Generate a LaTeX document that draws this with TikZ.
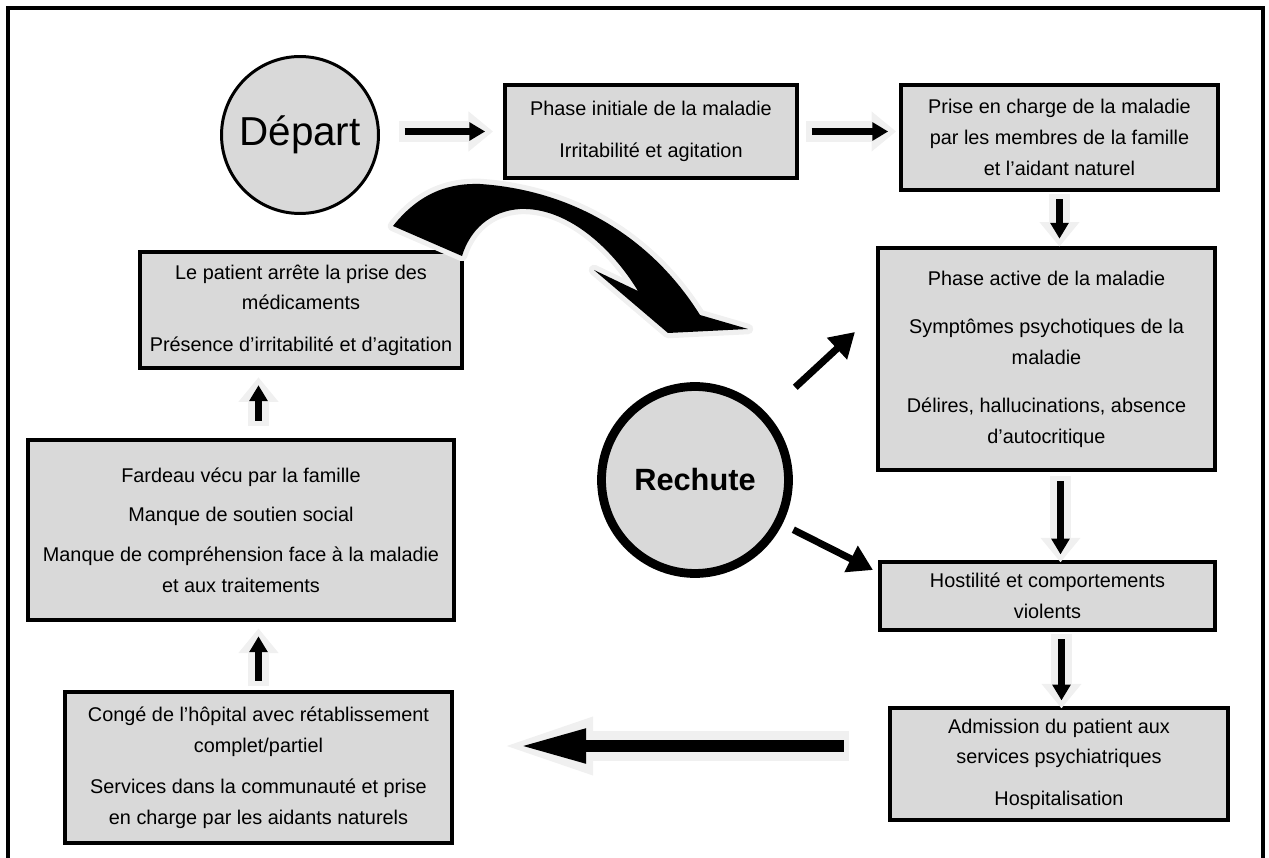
\documentclass[tikz,border=0pt]{standalone}
\usepackage{fontspec}
\setmainfont{Liberation Sans}
\usetikzlibrary{arrows.meta}
\definecolor{boxgray}{HTML}{D9D9D9}

\begin{document}
\begin{tikzpicture}[x=0.02cm,y=-0.02cm,
	txt/.style={font=\fontsize{11.3}{17.5}\selectfont},
	box/.style={txt, draw, line width=2.6pt, fill=boxgray, align=center, inner sep=0pt},
	ring/.style={circle, draw, fill=boxgray, inner sep=0pt},
	blk/.style 2 args={draw=black, line width=4.3pt, -{Triangle[length=9pt,width=10pt]},
		shorten <=#1, shorten >=#2,
		preaction={draw=black!6, line width=12pt, -{Triangle[length=14pt,width=22pt]},
			shorten <=#1-3pt, shorten >=#2-4.5pt}},
	bigblk/.style 2 args={draw=black, line width=6.8pt, -{Triangle[length=38pt,width=18pt]},
		shorten <=#1, shorten >=#2,
		preaction={draw=black!6, line width=17pt, -{Triangle[length=57pt,width=28pt]},
			shorten <=#1-3pt, shorten >=#2-15pt}},
	thin/.style={line width=4pt, -{Triangle[length=14pt,width=16pt]}}]
	\useasboundingbox (0,0) rectangle (1269,858);
	%
	%  FRAME
	%
	\draw[line width=2.3pt] (8,880) -- (8,8) -- (1263,8) -- (1263,880);
	%
	%  CIRCLES
	%
	\node[ring, line width=1.7pt, minimum size=3.14cm, font=\fontsize{23}{27}\selectfont] (dep) at (300,135) {Départ};
	\node[ring, line width=5pt, minimum size=3.74cm, font=\fontsize{17.5}{21}\selectfont\bfseries] (rec) at (695,480) {Rechute};
	%
	%  BOXES
	%
	\node[box, minimum width=5.84cm, minimum height=1.86cm] (b1) at (651,131.5)
		{Phase initiale de la maladie\\[6pt]Irritabilité et agitation};
	\node[box, minimum width=6.34cm, minimum height=2.1cm] (b2) at (1059.5,137.5)
		{Prise en charge de la maladie\\par les membres de la famille\\et l’aidant naturel};
	\node[box, minimum width=6.74cm, minimum height=4.44cm] (b3) at (1046.5,359)
		{Phase active de la maladie\\[10pt]Symptômes psychotiques de la\\maladie\\[10pt]Délires, hallucinations, absence\\d’autocritique};
	\node[box, minimum width=6.7cm, minimum height=1.36cm] (b4) at (1047.5,596)
		{Hostilité et comportements\\violents};
	\node[box, minimum width=6.76cm, minimum height=2.24cm] (b5) at (1059,764)
		{Admission du patient aux\\services psychiatriques\\[6pt]Hospitalisation};
	\node[box, minimum width=7.74cm, minimum height=3.02cm] (b6) at (258.5,767.5)
		{Congé de l’hôpital avec rétablissement\\complet/partiel\\[6pt]Services dans la communauté et prise\\en charge par les aidants naturels};
	\node[box, minimum width=8.52cm, minimum height=3.6cm] (b7) at (241,530)
		{Fardeau vécu par la famille\\[5pt]Manque de soutien social\\[5pt]Manque de compréhension face à la maladie\\et aux traitements};
	\node[box, minimum width=6.44cm, minimum height=2.32cm] (b8) at (301,310)
		{Le patient arrête la prise des\\médicaments\\[6pt]Présence d’irritabilité et d’agitation};
	%
	%  BLOCK ARROWS
	%
	\coordinate (lft) at ([yshift=0.36cm]b5.west);
	\draw[blk={14pt}{10pt}] (b1.west -| dep.east) -- (b1.west);
	\draw[blk={7pt}{6pt}] (b1.east) -- (b1.east -| b2.west);
	\draw[blk={4pt}{4pt}] (b2.south) -- (b2.south |- b3.north);
	\draw[blk={5pt}{3pt}] ([xshift=0.28cm]b3.south) -- ([xshift=0.28cm]b3.south |- b4.north);
	\draw[blk={4pt}{3pt}] ([xshift=0.28cm]b4.south) -- ([xshift=0.28cm]b4.south |- b5.north);
	\draw[bigblk={25pt}{37pt}] (lft) -- (lft -| b6.east);
	\draw[blk={5pt}{8pt}] (b6.north) -- (b6.north |- b7.south);
	\draw[blk={9.6pt}{8.5pt}] (b7.north -| b6.north) -- (b8.south -| b6.north);
	%
	%  RELAPSE ARROWS
	%
	\coordinate (p3) at (855,332);
	\coordinate (p4) at (873,570);
	\draw[thin, shorten <=22pt] (rec) -- (p3);
	\draw[thin, shorten <=7pt] (rec) -- (p4);
	%
	%  CURVED ARROW
	%
	\fill[black, preaction={draw=black!6, line width=6pt, line join=round}]
		(393,226) .. controls (420,192) and (450,183) .. (480,184)
		.. controls (570,190) and (650,235) .. (700,315)
		-- (748,329) -- (668,333) -- (594,270) -- (638,291)
		.. controls (610,245) and (565,207) .. (520,209)
		.. controls (490,211) and (470,230) .. (462,256) -- cycle;
\end{tikzpicture}
\end{document}
